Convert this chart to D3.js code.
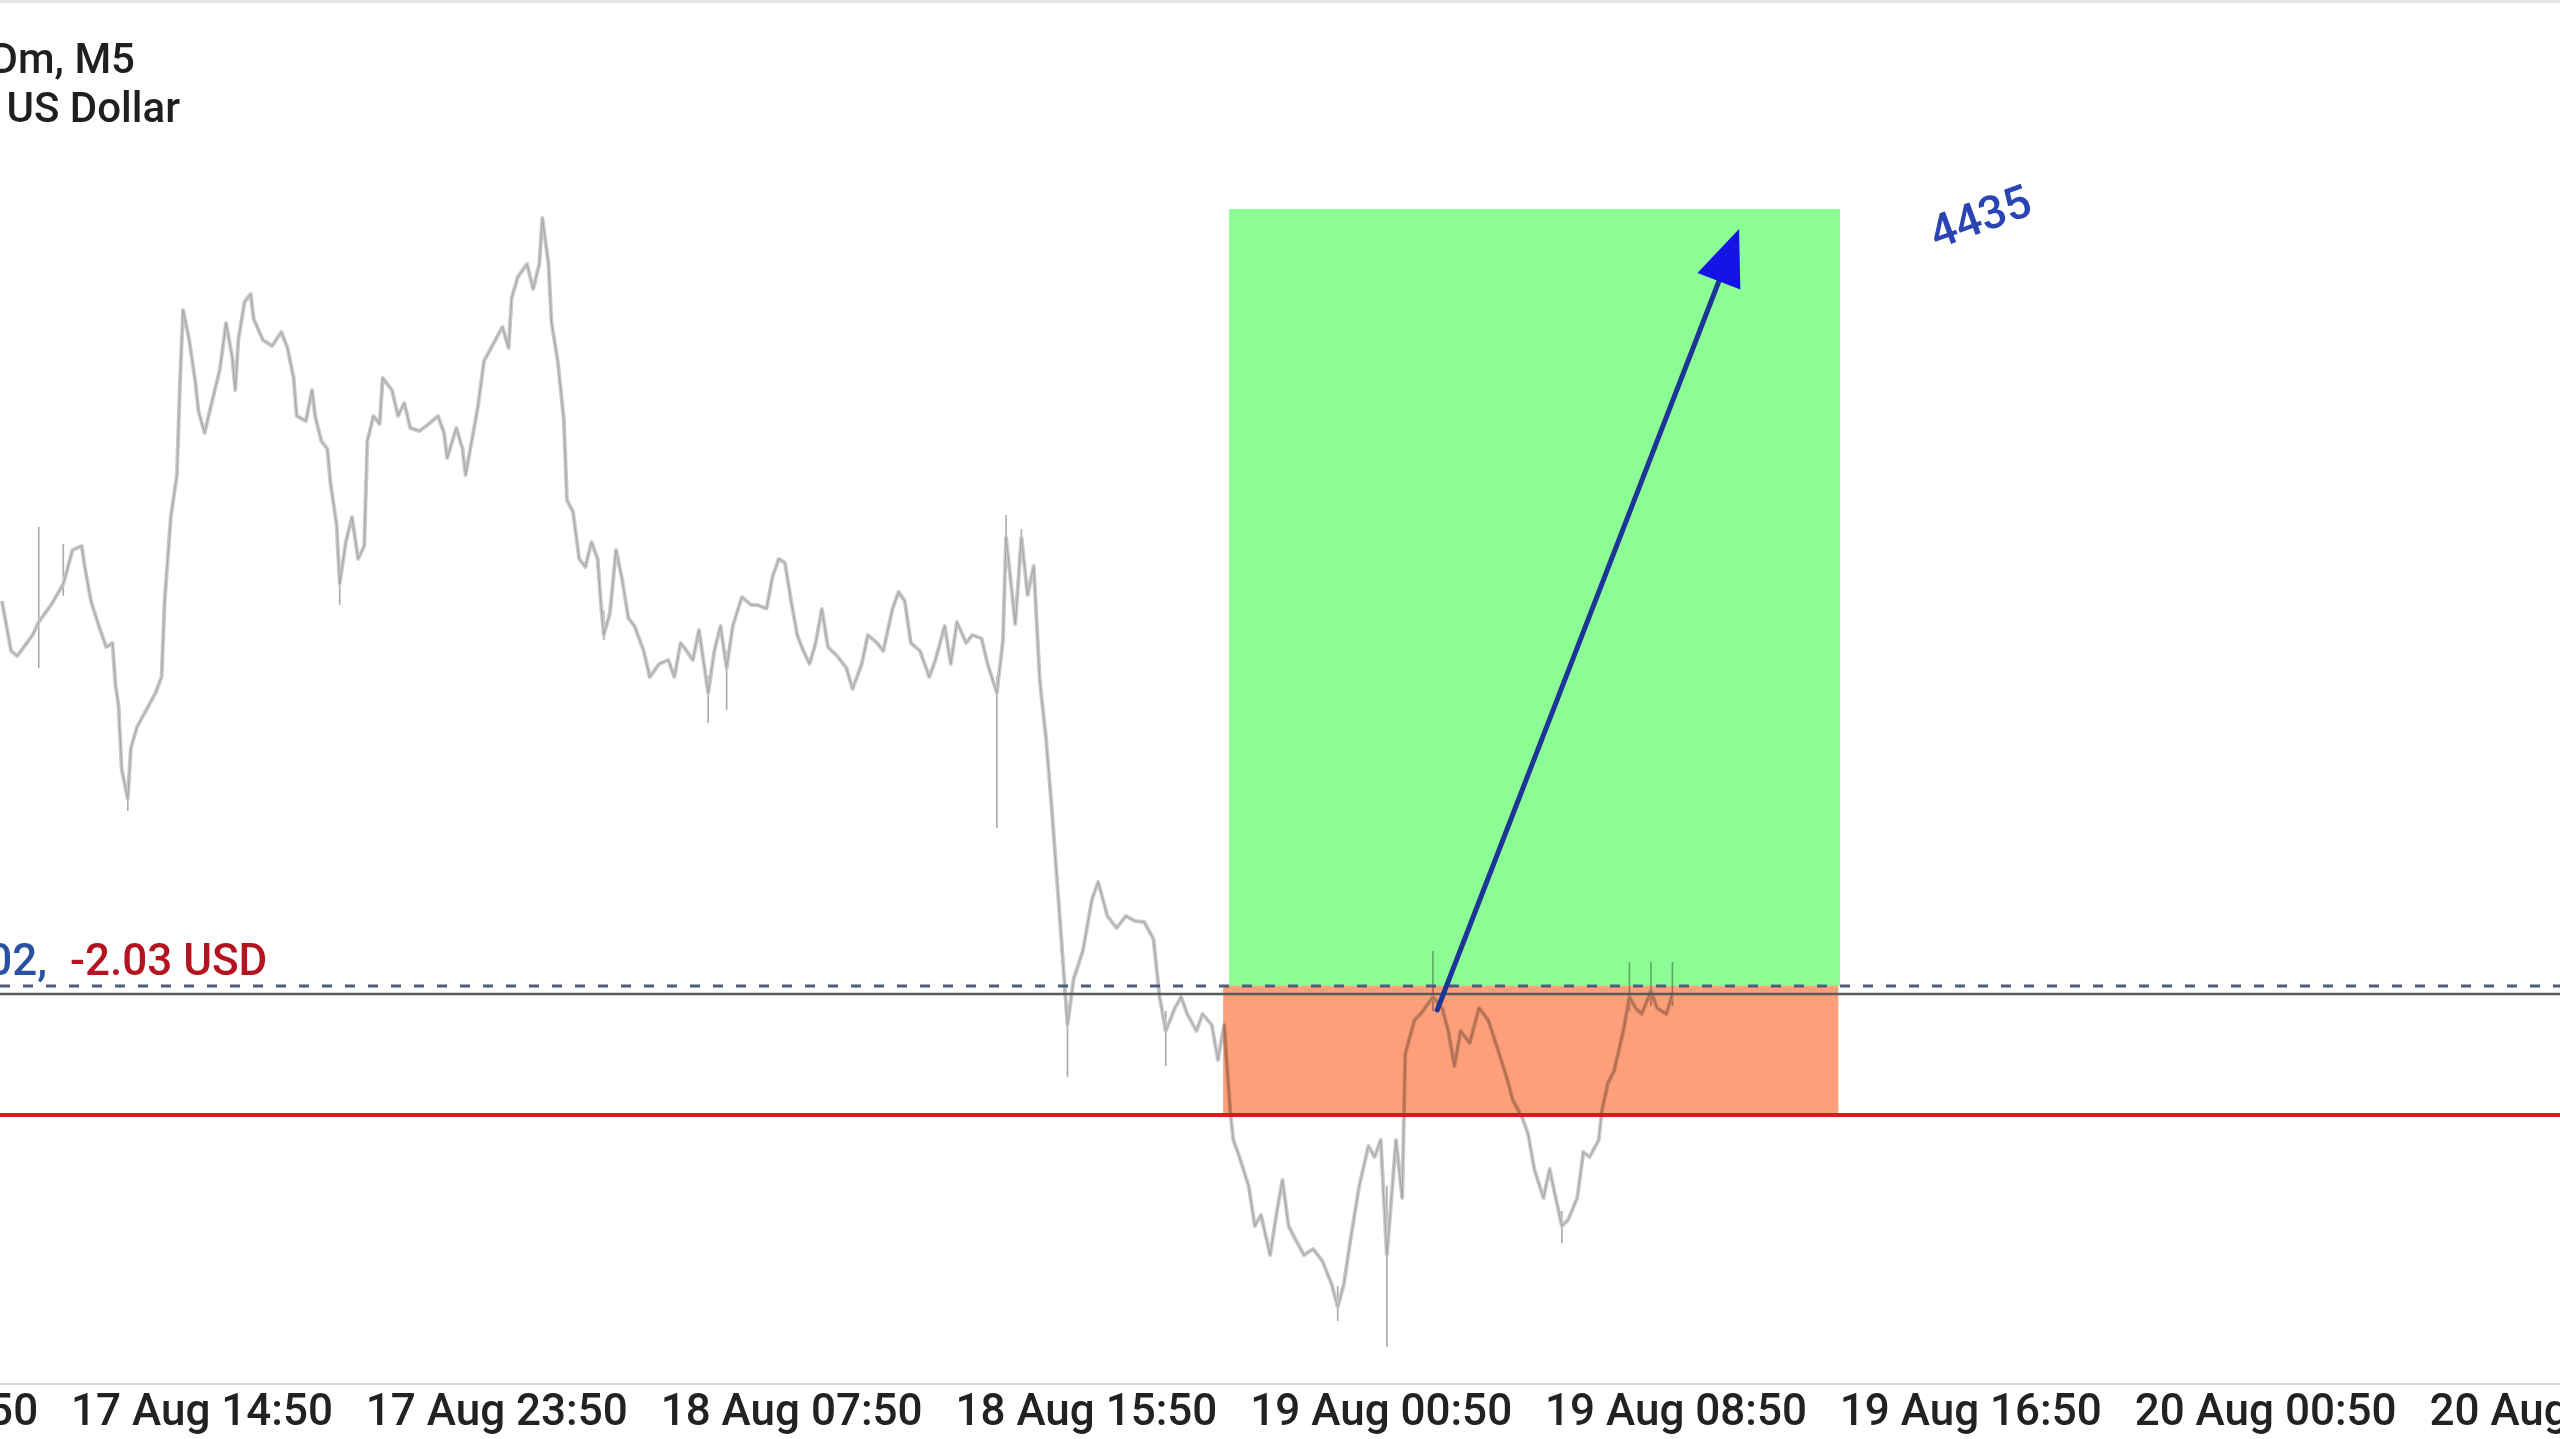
<!DOCTYPE html>
<html>
<head>
<meta charset="utf-8">
<script src="https://cdn.jsdelivr.net/npm/d3@7/dist/d3.min.js"></script>
<style>
  html, body { margin: 0; padding: 0; background: #ffffff; overflow: hidden; }
  svg { display: block; }
  text { font-family: Roboto, "Noto Sans", sans-serif; font-weight: 500; }
</style>
</head>
<body>
<svg id="chart" width="2560" height="1439"></svg>
<script>
// ---------- data ----------
const symbolTitle = "XAUUSDm, M5";
const symbolDesc = "Gold vs US Dollar";

// x-axis ticks (bar index, label)
const tickIdx = [-31, 65, 161, 257, 353, 449, 545, 641, 737, 833];
const tickLabels = ["17 Aug 06:50", "17 Aug 14:50", "17 Aug 23:50", "18 Aug 07:50", "18 Aug 15:50",
                    "19 Aug 00:50", "19 Aug 08:50", "19 Aug 16:50", "20 Aug 00:50", "20 Aug 08:50"];

// M5 bars: bar index and close price
const barIdx = [0,3,5,10,12,16,20,23,26,27,
  29,32,34,36,37,38,39,41,42,44,
  47,50,52,53,55,57,58,59,61,63,
  64,66,68,71,73,75,76,77,79,81,
  82,85,88,91,93,95,96,99,101,102,
  104,106,107,109,110,112,114,116,118,119,
  121,123,124,127,129,131,133,136,139,142,
  144,145,148,150,151,153,155,157,160,163,
  165,166,168,171,173,175,176,178,179,181,
  183,184,186,188,190,192,194,195,196,198,
  200,202,204,206,209,211,214,217,219,221,
  223,225,227,230,232,234,236,238,241,244,
  246,249,251,253,255,257,259,261,263,265,
  267,269,272,275,277,280,282,285,287,290,
  292,294,296,299,302,304,307,309,311,314,
  316,319,321,324,326,327,330,332,334,336,
  338,340,342,345,347,349,352,355,357,360,
  363,366,369,372,375,377,379,382,384,386,
  389,391,394,396,398,400,401,403,406,408,
  410,413,415,417,419,421,424,427,430,433,
  435,437,439,442,445,447,449,451,454,456,
  457,460,462,466,469,471,473,475,478,481,
  484,487,490,492,495,497,499,502,504,506,
  508,510,513,515,517,520,521,523,525,528,
  530,532,534,537,539,542,544];

const closePrice = [1775.40,1773.40,1773.20,1774.04,1774.56,1775.24,1776.08,1777.44,1777.60,1776.76,
  1775.40,1774.24,1773.56,1773.72,1772.04,1771.20,1768.68,1767.48,1769.52,1770.36,
  1771.04,1771.72,1772.36,1775.40,1778.76,1780.44,1784.16,1787.04,1785.84,1784.16,
  1783.00,1782.12,1783.16,1784.68,1786.52,1785.16,1783.84,1785.84,1787.36,1787.68,
  1786.68,1785.84,1785.60,1786.16,1785.52,1784.32,1782.80,1782.60,1783.84,1782.80,
  1781.80,1781.48,1780.12,1778.44,1776.08,1777.76,1778.76,1777.08,1777.60,1781.80,
  1782.80,1782.48,1784.32,1783.84,1782.80,1783.32,1782.32,1782.20,1782.48,1782.80,
  1782.12,1781.12,1782.32,1781.48,1780.44,1781.80,1783.16,1785.00,1785.68,1786.36,
  1785.52,1787.52,1788.36,1788.88,1787.88,1788.88,1790.72,1788.88,1786.52,1785.00,
  1782.64,1779.44,1778.96,1777.08,1776.76,1777.76,1777.08,1775.40,1774.04,1774.92,
  1777.44,1776.24,1774.72,1774.40,1773.40,1772.36,1772.88,1773.04,1772.36,1773.72,
  1773.40,1773.04,1774.24,1771.72,1773.40,1774.40,1772.72,1774.40,1775.56,1775.24,
  1775.24,1775.10,1776.40,1777.08,1776.92,1775.40,1774.04,1773.40,1772.88,1773.72,
  1775.08,1773.56,1773.20,1772.72,1771.88,1772.88,1774.04,1773.72,1773.40,1775.08,
  1775.76,1775.40,1773.72,1773.40,1772.36,1773.04,1774.40,1772.88,1774.56,1773.72,
  1774.04,1773.90,1772.88,1771.72,1773.84,1777.96,1774.48,1777.96,1775.64,1776.80,
  1772.20,1769.92,1766.92,1761.88,1758.44,1760.28,1761.40,1763.48,1764.16,1762.80,
  1762.32,1762.80,1762.60,1762.56,1761.88,1759.56,1758.20,1759.12,1759.56,1758.88,
  1758.20,1758.88,1758.44,1757.04,1758.44,1755.00,1753.84,1753.16,1752.00,1750.40,
  1750.84,1749.24,1750.84,1752.24,1750.40,1749.92,1749.24,1749.48,1749.00,1748.08,
  1747.16,1748.08,1749.72,1752.00,1753.60,1753.16,1753.84,1749.24,1753.84,1751.52,
  1757.28,1758.64,1758.88,1759.56,1759.12,1758.20,1756.80,1758.20,1757.72,1759.12,
  1758.64,1757.52,1756.36,1755.44,1754.76,1754.08,1752.68,1751.52,1752.68,1751.52,
  1750.40,1750.64,1751.52,1753.36,1753.16,1753.84,1755.00,1756.12,1756.60,1758.20,
  1759.56,1759.12,1758.88,1759.80,1759.12,1758.88,1759.68];

// long wicks
const wickIdx  = [12, 20, 41, 110, 196, 230, 236, 324, 327, 332, 347, 379, 435, 451, 466, 508, 530, 537, 544];
const wickHigh = [1778.36,1777.68,1768.40,1776.80,1775.00,1772.40,1773.40,1772.40,1778.84,1778.28,1759.00,1759.00,1748.00,1752.00,1761.40,1751.00,1760.96,1760.96,1760.96];
const wickLow  = [1772.72,1775.60,1767.00,1775.24,1773.84,1770.52,1771.04,1766.32,1777.00,1777.00,1756.36,1756.80,1746.60,1745.56,1759.00,1749.72,1759.00,1759.20,1759.20];

// trade levels
const entryPrice = 1760.00;
const bidPrice = 1759.68;
const stopPrice = 1754.84;
const takeProfitPrice = 1791.08;
const profitBoxIdx = [399.6, 598.6];
const lossBoxIdx = [397.7, 598.0];
const lossBoxLow = 1754.80;

// arrow annotation
const arrowFrom = {i: 467.4, p: 1759.04};
const arrowTo = {i: 565.7, p: 1790.28};
const arrowLabel = "4435";
const arrowLabelAt = {i: 644.6, p: 1790.64};

const positionLabelLeft = "buy 0.02,";
const positionLabelRight = "-2.03 USD";

// ---------- drawing ----------
const W = 2560, H = 1439;
const svg = d3.select("#chart");

const x = d3.scaleLinear().domain([0, 833]).range([1.9, 2559.9]);
const y = d3.scaleLinear().domain([1741.88, 1799.44]).range([H, 0]);

// top border
svg.append("line").attr("x1", 0).attr("x2", W).attr("y1", 1.5).attr("y2", 1.5)
  .attr("stroke", "#e4e4e4").attr("stroke-width", 3);

// profit / loss boxes
svg.append("rect")
  .attr("x", x(profitBoxIdx[0])).attr("width", x(profitBoxIdx[1]) - x(profitBoxIdx[0]))
  .attr("y", y(takeProfitPrice)).attr("height", y(entryPrice) - y(takeProfitPrice))
  .attr("fill", "#8cfd95");
svg.append("rect")
  .attr("x", x(lossBoxIdx[0])).attr("width", x(lossBoxIdx[1]) - x(lossBoxIdx[0]))
  .attr("y", y(entryPrice)).attr("height", y(lossBoxLow) - y(entryPrice))
  .attr("fill", "#fd9f79");

// price
const priceG = svg.append("g").style("mix-blend-mode", "multiply");
priceG.selectAll("line.wick").data(wickIdx).join("line")
  .attr("class", "wick")
  .attr("x1", (d) => x(d)).attr("x2", (d) => x(d))
  .attr("y1", (d, k) => y(wickHigh[k])).attr("y2", (d, k) => y(wickLow[k]))
  .attr("stroke", "#a9a9a9").attr("stroke-width", 1.6);

const pts = barIdx.map((b, k) => [b, closePrice[k]]);
const lineGen = d3.line().x((d) => x(d[0])).y((d) => y(d[1]));
priceG.append("path").datum(pts)
  .attr("d", lineGen)
  .attr("fill", "none")
  .attr("stroke", "#cacaca")
  .attr("stroke-width", 4)
  .attr("stroke-linejoin", "round");
priceG.append("path").datum(pts)
  .attr("d", lineGen)
  .attr("fill", "none")
  .attr("stroke", "#a4a4a4")
  .attr("stroke-width", 1)
  .attr("stroke-linejoin", "round");

// bid line (solid), entry (dashed), stop (red)
svg.append("line").attr("x1", 0).attr("x2", W).attr("y1", y(bidPrice)).attr("y2", y(bidPrice))
  .attr("stroke", "#5a5a5a").attr("stroke-width", 2.5);
svg.append("line").attr("x1", 0).attr("x2", W).attr("y1", y(entryPrice)).attr("y2", y(entryPrice))
  .attr("stroke", "#4d5d7e").attr("stroke-width", 3).attr("stroke-dasharray", "10,13");
svg.append("line").attr("x1", 0).attr("x2", W).attr("y1", y(stopPrice)).attr("y2", y(stopPrice))
  .attr("stroke", "#e3161d").attr("stroke-width", 4);

// arrow
const ax0 = x(arrowFrom.i), ay0 = y(arrowFrom.p);
const ax1 = x(arrowTo.i), ay1 = y(arrowTo.p);
const ang = Math.atan2(ay1 - ay0, ax1 - ax0);
const headLen = 56, headHalf = 23;
const bx = ax1 - headLen * Math.cos(ang), by = ay1 - headLen * Math.sin(ang);
svg.append("line")
  .attr("x1", ax0).attr("y1", ay0).attr("x2", bx).attr("y2", by)
  .attr("stroke", "#1d3596").attr("stroke-width", 5).attr("stroke-linecap", "round");
svg.append("polygon")
  .attr("points", [
    [ax1, ay1],
    [bx + headHalf * Math.sin(ang), by - headHalf * Math.cos(ang)],
    [bx - headHalf * Math.sin(ang), by + headHalf * Math.cos(ang)]
  ].map((p) => p.join(",")).join(" "))
  .attr("fill", "#1414e6");

svg.append("text")
  .attr("transform", `translate(${x(arrowLabelAt.i)},${y(arrowLabelAt.p)}) rotate(-20)`)
  .attr("text-anchor", "middle").attr("dominant-baseline", "middle")
  .attr("font-size", 46).attr("fill", "#2a44b4")
  .text(arrowLabel);

// position label
svg.append("text").attr("x", 47).attr("y", y(entryPrice) - 11)
  .attr("text-anchor", "end").attr("font-size", 44).attr("fill", "#28529f")
  .text(positionLabelLeft);
svg.append("text").attr("x", 70).attr("y", y(entryPrice) - 11)
  .attr("text-anchor", "start").attr("font-size", 44).attr("fill", "#b3141f")
  .text(positionLabelRight);

// symbol title
svg.append("text").attr("x", 135).attr("y", 73).attr("text-anchor", "end")
  .attr("font-size", 42).attr("fill", "#1f1f1f").text(symbolTitle);
svg.append("text").attr("x", 180).attr("y", 122).attr("text-anchor", "end")
  .attr("font-size", 42).attr("fill", "#1f1f1f").text(symbolDesc);

// x axis
const axisY = 1384;
svg.append("line").attr("x1", 0).attr("x2", W).attr("y1", axisY).attr("y2", axisY)
  .attr("stroke", "#d6d6d6").attr("stroke-width", 2);
const xAxis = d3.axisBottom(x).tickValues(tickIdx)
  .tickFormat((d, k) => tickLabels[k]).tickSize(0).tickPadding(0);
const axG = svg.append("g").attr("transform", `translate(0,${axisY})`).call(xAxis);
axG.select(".domain").remove();
axG.selectAll("text")
  .attr("y", 41).attr("dy", 0)
  .attr("font-size", 44).attr("font-family", "Roboto, sans-serif").attr("font-weight", 500)
  .attr("fill", "#222222");
</script>
</body>
</html>
